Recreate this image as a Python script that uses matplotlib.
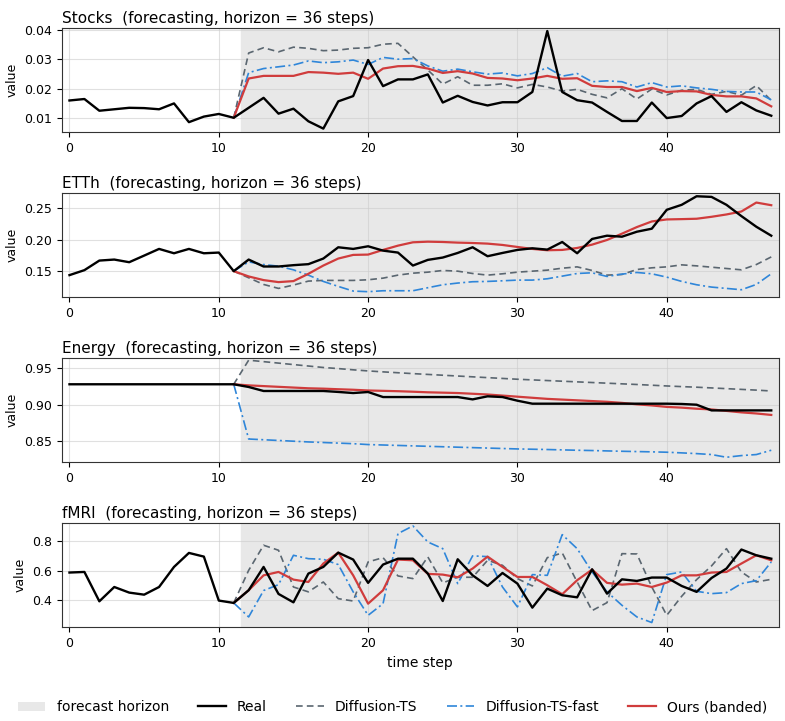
import numpy as np
import matplotlib
matplotlib.use("Agg")
import matplotlib.pyplot as plt
from matplotlib.patches import Patch
from matplotlib.lines import Line2D

# data
steps = np.arange(48)
ctx_end = 11   # last observed step, forecast starts after it

stocks_real = [0.0160, 0.0165, 0.0125, 0.0130, 0.0135, 0.0134, 0.0130, 0.0150, 0.0086, 0.0105,
               0.0114, 0.0101, 0.0135, 0.0169, 0.0115, 0.0132, 0.0089, 0.0064, 0.0157, 0.0175,
               0.0298, 0.0209, 0.0232, 0.0232, 0.0249, 0.0153, 0.0176, 0.0155, 0.0143, 0.0154,
               0.0154, 0.0189, 0.0397, 0.0189, 0.0161, 0.0153, 0.0121, 0.0090, 0.0090, 0.0153,
               0.0100, 0.0107, 0.0150, 0.0175, 0.0121, 0.0154, 0.0126, 0.0108]
stocks_dts = [0.0101, 0.0322, 0.0340, 0.0326, 0.0342, 0.0338, 0.0330, 0.0332, 0.0338, 0.0340,
              0.0352, 0.0355, 0.0309, 0.0264, 0.0216, 0.0241, 0.0212, 0.0212, 0.0217, 0.0203,
              0.0215, 0.0206, 0.0192, 0.0198, 0.0181, 0.0169, 0.0200, 0.0165, 0.0199, 0.0179,
              0.0195, 0.0198, 0.0181, 0.0191, 0.0178, 0.0211, 0.0160]
stocks_fast = [0.0101, 0.0255, 0.0269, 0.0275, 0.0281, 0.0295, 0.0289, 0.0292, 0.0298, 0.0283,
               0.0307, 0.0301, 0.0303, 0.0278, 0.0260, 0.0267, 0.0258, 0.0250, 0.0254, 0.0244,
               0.0252, 0.0272, 0.0243, 0.0252, 0.0224, 0.0227, 0.0224, 0.0206, 0.0221, 0.0206,
               0.0210, 0.0203, 0.0198, 0.0191, 0.0189, 0.0189, 0.0162]
stocks_ours = [0.0101, 0.0235, 0.0244, 0.0244, 0.0244, 0.0257, 0.0255, 0.0251, 0.0255, 0.0234,
               0.0269, 0.0277, 0.0278, 0.0269, 0.0254, 0.0260, 0.0252, 0.0237, 0.0235, 0.0229,
               0.0235, 0.0244, 0.0234, 0.0236, 0.0210, 0.0206, 0.0206, 0.0192, 0.0203, 0.0189,
               0.0192, 0.0191, 0.0179, 0.0174, 0.0174, 0.0167, 0.0140]

etth_real = [0.1437, 0.1516, 0.1668, 0.1684, 0.1642, 0.1747, 0.1853, 0.1784, 0.1853, 0.1784,
             0.1795, 0.1500, 0.1684, 0.1574, 0.1574, 0.1595, 0.1611, 0.1700, 0.1879, 0.1853,
             0.1895, 0.1826, 0.1795, 0.1589, 0.1679, 0.1716, 0.1789, 0.1879, 0.1737, 0.1789,
             0.1837, 0.1863, 0.1842, 0.1963, 0.1784, 0.2011, 0.2063, 0.2047, 0.2126, 0.2174,
             0.2474, 0.2553, 0.2689, 0.2679, 0.2553, 0.2374, 0.2205, 0.2063]
etth_dts = [0.1500, 0.1395, 0.1289, 0.1226, 0.1279, 0.1342, 0.1353, 0.1353, 0.1353, 0.1363,
            0.1389, 0.1437, 0.1468, 0.1484, 0.1511, 0.1500, 0.1463, 0.1437, 0.1458, 0.1484,
            0.1500, 0.1516, 0.1547, 0.1568, 0.1511, 0.1437, 0.1447, 0.1526, 0.1553, 0.1568,
            0.1600, 0.1584, 0.1563, 0.1542, 0.1521, 0.1605, 0.1726]
etth_fast = [0.1500, 0.1647, 0.1605, 0.1579, 0.1521, 0.1437, 0.1337, 0.1258, 0.1184, 0.1174,
             0.1189, 0.1189, 0.1189, 0.1237, 0.1284, 0.1311, 0.1332, 0.1337, 0.1347, 0.1358,
             0.1358, 0.1379, 0.1421, 0.1463, 0.1474, 0.1416, 0.1453, 0.1479, 0.1458, 0.1405,
             0.1337, 0.1284, 0.1247, 0.1226, 0.1205, 0.1289, 0.1458]
etth_ours = [0.1500, 0.1416, 0.1358, 0.1326, 0.1342, 0.1458, 0.1589, 0.1700, 0.1758, 0.1763,
             0.1837, 0.1905, 0.1958, 0.1968, 0.1963, 0.1953, 0.1947, 0.1937, 0.1916, 0.1884,
             0.1853, 0.1832, 0.1837, 0.1868, 0.1921, 0.1995, 0.2095, 0.2200, 0.2289, 0.2321,
             0.2326, 0.2332, 0.2363, 0.2400, 0.2447, 0.2589, 0.2547]

energy_real = [0.928] * 12 + [0.9243, 0.9188, 0.9188, 0.9188, 0.9188, 0.9188, 0.9175, 0.9160,
                              0.9174, 0.9105, 0.9105, 0.9105, 0.9105, 0.9105, 0.9105, 0.9073,
                              0.9115, 0.9105, 0.9055, 0.9014, 0.9014, 0.9014, 0.9014, 0.9014,
                              0.9014, 0.9014, 0.9014, 0.9014, 0.9014, 0.9010, 0.9000, 0.8922,
                              0.8922, 0.8922, 0.8922, 0.8922]
energy_dts = [0.928, 0.9610, 0.9590, 0.9570, 0.9550, 0.9530, 0.9510, 0.9495, 0.9478, 0.9463,
              0.9450, 0.9438, 0.9426, 0.9415, 0.9404, 0.9393, 0.9382, 0.9371, 0.9360, 0.9349,
              0.9340, 0.9331, 0.9322, 0.9313, 0.9304, 0.9295, 0.9286, 0.9277, 0.9267, 0.9257,
              0.9248, 0.9240, 0.9230, 0.9220, 0.9210, 0.9200, 0.9188]
energy_fast = [0.928, 0.8530, 0.8520, 0.8510, 0.8500, 0.8490, 0.8482, 0.8474, 0.8466, 0.8454,
               0.8448, 0.8442, 0.8436, 0.8430, 0.8424, 0.8418, 0.8412, 0.8406, 0.8400, 0.8394,
               0.8390, 0.8386, 0.8381, 0.8376, 0.8372, 0.8367, 0.8362, 0.8358, 0.8354, 0.8349,
               0.8340, 0.8330, 0.8317, 0.8280, 0.8303, 0.8317, 0.8376]
energy_ours = [0.928, 0.9265, 0.9255, 0.9245, 0.9235, 0.9225, 0.9220, 0.9212, 0.9205, 0.9195,
               0.9190, 0.9185, 0.9178, 0.9170, 0.9165, 0.9160, 0.9150, 0.9140, 0.9125, 0.9110,
               0.9095, 0.9080, 0.9070, 0.9060, 0.9050, 0.9040, 0.9025, 0.9005, 0.8990, 0.8970,
               0.8960, 0.8945, 0.8935, 0.8915, 0.8895, 0.8880, 0.8860]

fmri_real = [0.588, 0.592, 0.393, 0.490, 0.452, 0.438, 0.490, 0.626, 0.721, 0.696,
             0.398, 0.382, 0.468, 0.626, 0.443, 0.386, 0.581, 0.626, 0.723, 0.676,
             0.518, 0.642, 0.682, 0.682, 0.581, 0.395, 0.678, 0.569, 0.497, 0.585,
             0.513, 0.350, 0.479, 0.434, 0.420, 0.610, 0.445, 0.542, 0.531, 0.554,
             0.554, 0.497, 0.457, 0.551, 0.615, 0.744, 0.705, 0.682]
fmri_dts = [0.382, 0.603, 0.773, 0.739, 0.490, 0.457, 0.524, 0.411, 0.395, 0.660,
            0.689, 0.565, 0.547, 0.694, 0.518, 0.556, 0.556, 0.671, 0.637, 0.547,
            0.497, 0.689, 0.721, 0.524, 0.330, 0.384, 0.716, 0.714, 0.490, 0.298,
            0.427, 0.540, 0.633, 0.750, 0.592, 0.524, 0.542]
fmri_fast = [0.382, 0.287, 0.466, 0.506, 0.705, 0.682, 0.678, 0.642, 0.457, 0.298,
             0.377, 0.852, 0.904, 0.795, 0.750, 0.513, 0.701, 0.696, 0.490, 0.355,
             0.574, 0.569, 0.845, 0.750, 0.592, 0.457, 0.366, 0.287, 0.249, 0.574,
             0.592, 0.461, 0.445, 0.452, 0.513, 0.533, 0.660]
fmri_ours = [0.382, 0.468, 0.569, 0.592, 0.540, 0.524, 0.649, 0.723, 0.569, 0.377,
             0.468, 0.676, 0.671, 0.579, 0.574, 0.556, 0.615, 0.696, 0.626, 0.558,
             0.558, 0.502, 0.441, 0.536, 0.608, 0.518, 0.506, 0.513, 0.490, 0.520,
             0.569, 0.569, 0.588, 0.592, 0.649, 0.705, 0.671]

names = ["Stocks", "ETTh", "Energy", "fMRI"]
reals = [stocks_real, etth_real, energy_real, fmri_real]
dts = [stocks_dts, etth_dts, energy_dts, fmri_dts]
fasts = [stocks_fast, etth_fast, energy_fast, fmri_fast]
ours = [stocks_ours, etth_ours, energy_ours, fmri_ours]
ylims = [(0.0052, 0.0407), (0.1087, 0.2738), (0.8212, 0.9637), (0.217, 0.922)]
yticks = [[0.01, 0.02, 0.03, 0.04], [0.15, 0.20, 0.25], [0.85, 0.90, 0.95], [0.4, 0.6, 0.8]]

c_real = "black"
c_dts = "#5a6670"
c_fast = "#2f86d9"
c_ours = "#d03c3c"
c_shade = "#e8e8e8"

fig, axes = plt.subplots(4, 1, figsize=(7.85, 7.21), dpi=100, sharex=False)
fig.subplots_adjust(left=0.079, right=0.992, top=0.961, bottom=0.130, hspace=0.587)

fx = steps[ctx_end:]
for i, ax in enumerate(axes):
    ax.axvspan(ctx_end + 0.5, 47.5, color=c_shade, zorder=0)
    ax.grid(True, color="#cccccc", alpha=0.6, linewidth=0.8, zorder=1)
    ax.set_axisbelow(True)
    ax.plot(fx, dts[i], color=c_dts, ls=(0, (4, 2.5)), lw=1.2, zorder=3)
    ax.plot(fx, fasts[i], color=c_fast, ls=(0, (6, 2, 1.2, 2)), lw=1.2, zorder=3)
    ax.plot(fx, ours[i], color=c_ours, lw=1.6, zorder=4)
    ax.plot(steps, reals[i], color=c_real, lw=1.7, zorder=5)
    ax.set_xlim(-0.5, 47.5)
    ax.set_ylim(*ylims[i])
    ax.set_yticks(yticks[i])
    ax.set_xticks([0, 10, 20, 30, 40])
    ax.tick_params(labelsize=9)
    ax.set_ylabel("value", fontsize=9)
    ax.set_title(f"{names[i]}  (forecasting, horizon = 36 steps)", loc="left", fontsize=11, pad=4)
    for s in ax.spines.values():
        s.set_color("#333333")

axes[-1].set_xlabel("time step", fontsize=10)

handles = [
    Patch(facecolor=c_shade, edgecolor="none", label="forecast horizon"),
    Line2D([], [], color=c_real, lw=1.7, label="Real"),
    Line2D([], [], color=c_dts, ls=(0, (4, 2.5)), lw=1.2, label="Diffusion-TS"),
    Line2D([], [], color=c_fast, ls=(0, (6, 2, 1.2, 2)), lw=1.2, label="Diffusion-TS-fast"),
    Line2D([], [], color=c_ours, lw=1.6, label="Ours (banded)"),
]
fig.legend(handles=handles, loc="lower center", ncol=5, frameon=False, fontsize=10,
           bbox_to_anchor=(0.5, -0.008), columnspacing=2.1)

fig.savefig("out.png", dpi=100)
